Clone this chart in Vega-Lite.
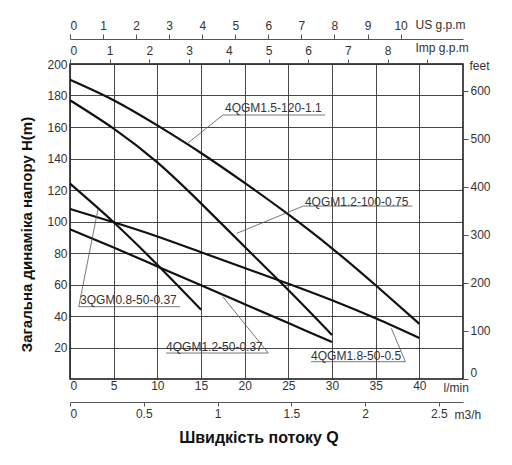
{
  "$schema": "https://vega.github.io/schema/vega-lite/v6.json",
  "width": 393,
  "height": 315,
  "autosize": "none",
  "padding": {"left": 70, "top": 64, "right": 49, "bottom": 86},
  "background": "white",
  "config": {
    "view": {"stroke": "#111", "strokeWidth": 1.5},
    "font": "Liberation Sans",
    "axis": {
      "labelFont": "Liberation Sans",
      "labelFontSize": 12,
      "labelColor": "#333",
      "titleFont": "Liberation Sans",
      "titleColor": "#333",
      "titleFontWeight": "normal",
      "titleFontSize": 12,
      "gridColor": "#333",
      "gridWidth": 0.9,
      "gridOpacity": 1,
      "domainColor": "#555",
      "tickColor": "#555",
      "labelOverlap": false
    }
  },
  "datasets": {
    "curves": [
      {"series": "4QGM1.5-120-1.1", "q": 0, "h": 190},
      {"series": "4QGM1.5-120-1.1", "q": 5, "h": 177},
      {"series": "4QGM1.5-120-1.1", "q": 10, "h": 161},
      {"series": "4QGM1.5-120-1.1", "q": 15, "h": 143.5},
      {"series": "4QGM1.5-120-1.1", "q": 20, "h": 124.5},
      {"series": "4QGM1.5-120-1.1", "q": 25, "h": 104.5},
      {"series": "4QGM1.5-120-1.1", "q": 30, "h": 83},
      {"series": "4QGM1.5-120-1.1", "q": 35, "h": 59.5},
      {"series": "4QGM1.5-120-1.1", "q": 40, "h": 35},
      {"series": "4QGM1.2-100-0.75", "q": 0, "h": 177},
      {"series": "4QGM1.2-100-0.75", "q": 5, "h": 159},
      {"series": "4QGM1.2-100-0.75", "q": 10, "h": 137.5},
      {"series": "4QGM1.2-100-0.75", "q": 15, "h": 111.5},
      {"series": "4QGM1.2-100-0.75", "q": 20, "h": 84},
      {"series": "4QGM1.2-100-0.75", "q": 25, "h": 56.5},
      {"series": "4QGM1.2-100-0.75", "q": 30, "h": 28},
      {"series": "3QGM0.8-50-0.37", "q": 0, "h": 124},
      {"series": "3QGM0.8-50-0.37", "q": 5, "h": 99.5},
      {"series": "3QGM0.8-50-0.37", "q": 10, "h": 72.5},
      {"series": "3QGM0.8-50-0.37", "q": 15, "h": 44},
      {"series": "4QGM1.2-50-0.37", "q": 0, "h": 95},
      {"series": "4QGM1.2-50-0.37", "q": 5, "h": 83.5},
      {"series": "4QGM1.2-50-0.37", "q": 10, "h": 71.5},
      {"series": "4QGM1.2-50-0.37", "q": 15, "h": 59.5},
      {"series": "4QGM1.2-50-0.37", "q": 20, "h": 47.5},
      {"series": "4QGM1.2-50-0.37", "q": 25, "h": 35.5},
      {"series": "4QGM1.2-50-0.37", "q": 30, "h": 23.5},
      {"series": "4QGM1.8-50-0.5", "q": 0, "h": 108},
      {"series": "4QGM1.8-50-0.5", "q": 5, "h": 99.5},
      {"series": "4QGM1.8-50-0.5", "q": 10, "h": 90.5},
      {"series": "4QGM1.8-50-0.5", "q": 15, "h": 80.5},
      {"series": "4QGM1.8-50-0.5", "q": 20, "h": 70.5},
      {"series": "4QGM1.8-50-0.5", "q": 25, "h": 60.5},
      {"series": "4QGM1.8-50-0.5", "q": 30, "h": 50},
      {"series": "4QGM1.8-50-0.5", "q": 35, "h": 38.5},
      {"series": "4QGM1.8-50-0.5", "q": 40, "h": 26}
    ],
    "notes": [
      {"label": "4QGM1.5-120-1.1", "tq": 17.75, "th": 172, "uq1": 17.5, "uq2": 29.2, "uh": 167.6, "lq1": 17.5, "lh1": 167.6, "lq2": 13.5, "lh2": 149.8},
      {"label": "4QGM1.2-100-0.75", "tq": 26.9, "th": 112.4, "uq1": 26.7, "uq2": 39.2, "uh": 109.8, "lq1": 26.7, "lh1": 109.8, "lq2": 19.1, "lh2": 92.5},
      {"label": "3QGM0.8-50-0.37", "tq": 1.15, "th": 50.2, "uq1": 1.0, "uq2": 12.6, "uh": 45.9, "lq1": 1.0, "lh1": 45.9, "lq2": 3.2, "lh2": 107.7},
      {"label": "4QGM1.2-50-0.37", "tq": 11.0, "th": 20.5, "uq1": 11.0, "uq2": 22.7, "uh": 16.5, "lq1": 22.7, "lh1": 16.5, "lq2": 17.5, "lh2": 52.2},
      {"label": "4QGM1.8-50-0.5", "tq": 27.6, "th": 14.8, "uq1": 27.6, "uq2": 38.4, "uh": 11, "lq1": 38.4, "lh1": 11, "lq2": 36.8, "lh2": 32.2}
    ],
    "anchor": [{"v": 0}]
  },
  "layer": [
    {
      "data": {"name": "curves"},
      "mark": {"type": "line", "interpolate": "natural", "strokeWidth": 2.2, "color": "#111"},
      "encoding": {
        "x": {
          "field": "q", "type": "quantitative",
          "scale": {"domain": [0, 45], "nice": false, "zero": false},
          "axis": {
            "orient": "bottom",
            "values": [0, 5, 10, 15, 20, 25, 30, 35, 40],
            "ticks": false, "domain": false, "labelPadding": 1,
            "title": "l/min", "titleX": 373, "titleY": 8, "titleAlign": "left", "titleBaseline": "middle", "titleAngle": 0
          }
        },
        "y": {
          "field": "h", "type": "quantitative",
          "scale": {"domain": [0, 200], "nice": false, "zero": false},
          "axis": {
            "orient": "left",
            "values": [20, 40, 60, 80, 100, 120, 140, 160, 180, 200],
            "ticks": false, "domain": false, "labelPadding": 3,
            "title": "Загальна динаміка напору H(m)",
            "titleFontSize": 15, "titleFontWeight": "bold", "titleColor": "#111",
            "titleX": -44, "titleY": 170, "titleAlign": "center", "titleBaseline": "middle", "titleAngle": 270
          }
        },
        "detail": {"field": "series", "type": "nominal"}
      }
    },
    {
      "data": {"name": "notes"},
      "mark": {"type": "rule", "strokeWidth": 0.8, "color": "#555"},
      "encoding": {
        "x": {"field": "uq1", "type": "quantitative", "scale": {"domain": [0, 45], "nice": false, "zero": false}, "axis": null},
        "x2": {"field": "uq2"},
        "y": {"field": "uh", "type": "quantitative", "scale": {"domain": [0, 200], "nice": false, "zero": false}, "axis": null}
      }
    },
    {
      "data": {"name": "notes"},
      "mark": {"type": "rule", "strokeWidth": 0.8, "color": "#555"},
      "encoding": {
        "x": {"field": "lq1", "type": "quantitative", "scale": {"domain": [0, 45], "nice": false, "zero": false}, "axis": null},
        "x2": {"field": "lq2"},
        "y": {"field": "lh1", "type": "quantitative", "scale": {"domain": [0, 200], "nice": false, "zero": false}, "axis": null},
        "y2": {"field": "lh2"}
      }
    },
    {
      "data": {"name": "notes"},
      "mark": {"type": "text", "align": "left", "baseline": "middle", "fontSize": 12, "color": "#333", "font": "Liberation Sans"},
      "encoding": {
        "x": {"field": "tq", "type": "quantitative", "scale": {"domain": [0, 45], "nice": false, "zero": false}, "axis": null},
        "y": {"field": "th", "type": "quantitative", "scale": {"domain": [0, 200], "nice": false, "zero": false}, "axis": null},
        "text": {"field": "label"}
      }
    },
    {
      "data": {"name": "anchor"},
      "mark": {"type": "point", "opacity": 0},
      "encoding": {
        "x": {
          "field": "v", "type": "quantitative",
          "scale": {"domain": [0, 11.889], "nice": false, "zero": false},
          "axis": {
            "orient": "top", "offset": 25,
            "values": [0, 1, 2, 3, 4, 5, 6, 7, 8, 9, 10],
            "grid": false, "tickSize": 5, "labelPadding": 2, "domain": true,
            "title": "US g.p.m", "titleX": 345, "titleY": -15, "titleAlign": "left", "titleBaseline": "middle", "titleAngle": 0
          }
        }
      }
    },
    {
      "data": {"name": "anchor"},
      "mark": {"type": "point", "opacity": 0},
      "encoding": {
        "x": {
          "field": "v", "type": "quantitative",
          "scale": {"domain": [0, 9.899], "nice": false, "zero": false},
          "axis": {
            "orient": "top", "offset": 0,
            "values": [0, 1, 2, 3, 4, 5, 6, 7, 8, 9],
            "labelExpr": "datum.value == 9 ? '' : datum.label",
            "grid": false, "tickSize": 5, "labelPadding": 2, "domain": false,
            "title": "Imp g.p.m", "titleX": 345, "titleY": -17, "titleAlign": "left", "titleBaseline": "middle", "titleAngle": 0
          }
        }
      }
    },
    {
      "data": {"name": "anchor"},
      "mark": {"type": "point", "opacity": 0},
      "encoding": {
        "x": {
          "field": "v", "type": "quantitative",
          "scale": {"domain": [0, 2.663], "nice": false, "zero": false},
          "axis": {
            "orient": "bottom", "offset": 23,
            "values": [0, 0.5, 1, 1.5, 2, 2.5],
            "format": "~g",
            "grid": false, "tickSize": 4, "labelPadding": 2, "domain": true,
            "title": "m3/h", "titleX": 384, "titleY": 12, "titleAlign": "left", "titleBaseline": "middle", "titleAngle": 0
          }
        }
      }
    },
    {
      "data": {"name": "anchor"},
      "mark": {"type": "point", "opacity": 0},
      "encoding": {
        "x": {
          "field": "v", "type": "quantitative",
          "scale": {"domain": [0, 45], "nice": false, "zero": false},
          "axis": {
            "orient": "bottom", "offset": 0,
            "labels": false, "ticks": false, "domain": false, "grid": false,
            "title": "Швидкість потоку Q",
            "titleFontSize": 16, "titleFontWeight": "bold", "titleColor": "#111",
            "titleX": 188.5, "titleY": 58, "titleAlign": "center", "titleBaseline": "middle", "titleAngle": 0
          }
        }
      }
    },
    {
      "data": {"name": "anchor"},
      "mark": {"type": "point", "opacity": 0},
      "encoding": {
        "y": {
          "field": "v", "type": "quantitative",
          "scale": {"domain": [0, 656.17], "nice": false, "zero": false},
          "axis": {
            "orient": "right",
            "values": [0, 100, 200, 300, 400, 500, 600],
            "grid": false, "tickSize": 5, "labelPadding": 2, "domain": false, "labelFlush": true,
            "title": "feet", "titleX": 6, "titleY": 1, "titleAlign": "left", "titleBaseline": "middle", "titleAngle": 0
          }
        }
      }
    }
  ],
  "resolve": {
    "scale": {"x": "independent", "y": "independent"},
    "axis": {"x": "independent", "y": "independent"}
  }
}
